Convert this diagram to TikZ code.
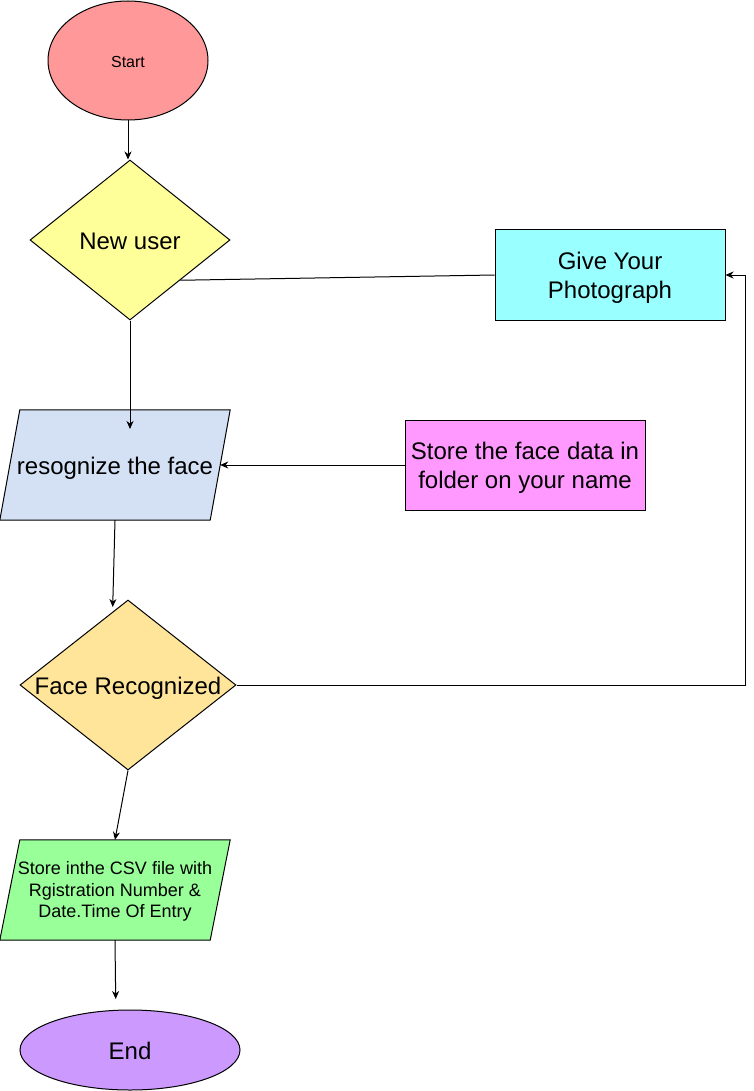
\documentclass[tikz,border=0pt]{standalone}
\usepackage{fontspec}
\setmainfont{Liberation Sans}
\usetikzlibrary{shapes.geometric,arrows.meta,calc,backgrounds}
\definecolor{startfill}{HTML}{FF9999}
\definecolor{newfill}{HTML}{FFFF99}
\definecolor{photofill}{HTML}{99FFFF}
\definecolor{recogfill}{HTML}{D4E1F5}
\definecolor{storefill}{HTML}{FF99FF}
\definecolor{facefill}{HTML}{FFE599}
\definecolor{csvfill}{HTML}{99FF99}
\definecolor{endfill}{HTML}{CC99FF}
% line struts giving every text line the same height and depth
\newcommand\bigline{\rule[-5.1pt]{0pt}{28.8pt}}
\newcommand\smallline{\rule[-4.85pt]{0pt}{21.7pt}}
\begin{document}
\begin{tikzpicture}[x=1pt,y=-1pt,
  outline/.style={draw=black,line width=1pt},
  textbase/.style={inner sep=0pt,align=center,font=\fontsize{24}{28.8}\selectfont},
  oneline/.style={text height=18.6pt,text depth=0pt},
  terminal/.style={outline,textbase,oneline,ellipse},
  decision/.style={outline,textbase,oneline,diamond},
  process/.style={outline,textbase,rectangle},
  iotext/.style={textbase,rectangle},
  iofill/.style={outline},
  flow/.style={draw=black,line width=1pt,-{Stealth[length=8pt,width=7pt,inset=2.5pt]}},
  link/.style={draw=black,line width=1pt}
]
\useasboundingbox (0,0) rectangle (754,1091);

% shapes
\node[terminal,fill=startfill,minimum width=160,minimum height=119,
  font=\fontsize{16}{19}\selectfont,text height=14.4pt] (start) at (128,60.5) {Start};
\node[decision,fill=newfill,minimum width=200,minimum height=160,aspect=1.25]
  (newuser) at (130,240) {New user};
\node[process,fill=photofill,minimum width=230,minimum height=90]
  (photo) at (610,275) {\bigline Give Your\\\bigline Photograph};
\node[iotext,minimum width=210,minimum height=110,oneline]
  (recog) at (115,465) {resognize the face};
\node[process,fill=storefill,minimum width=240,minimum height=90]
  (storeface) at (525,465) {\bigline Store the face data in\\\bigline folder on your name};
\node[decision,fill=facefill,minimum width=216,minimum height=170,aspect=1.27]
  (facerec) at (128,685) {Face Recognized};
\node[iotext,minimum width=210,minimum height=100,
  font=\fontsize{18}{21.7}\selectfont]
  (csv) at (115,890) {\smallline Store inthe CSV file with\\\smallline Rgistration Number \&\\\smallline Date.Time Of Entry};
\node[terminal,fill=endfill,minimum width=220,minimum height=80]
  (end) at (130,1050) {End};

% slanted input/output outlines behind their texts
\begin{pgfonlayer}{background}
  \filldraw[iofill,fill=recogfill]
    ($(recog.north west)+(10,0)$) -- ($(recog.north east)+(10,0)$) --
    ($(recog.south east)+(-10,0)$) -- ($(recog.south west)+(-10,0)$) -- cycle;
  \filldraw[iofill,fill=csvfill]
    ($(csv.north west)+(10,0)$) -- ($(csv.north east)+(10,0)$) --
    ($(csv.south east)+(-10,0)$) -- ($(csv.south west)+(-10,0)$) -- cycle;
\end{pgfonlayer}

% connector end points
\coordinate (recogin) at (130,429);
\coordinate (facein) at (112.7,607);
\coordinate (loopcorner) at (745,685);
\coordinate (endin) at (115.7,999);

% connectors
\draw[flow] (start.south) -- (start.south |- newuser.north);
\draw[link] (photo.west) -- (newuser.south east);
\draw[flow] (newuser.south) -- (recogin);
\draw[flow] (storeface.west) -- (recog.east);
\draw[flow] (recog.south) -- (facein);
\draw[flow] (facerec.east) -- (loopcorner) |- (photo.east);
\draw[flow] (facerec.south) -- (csv.north);
\draw[flow] (csv.south) -- (endin);
\end{tikzpicture}
\end{document}
